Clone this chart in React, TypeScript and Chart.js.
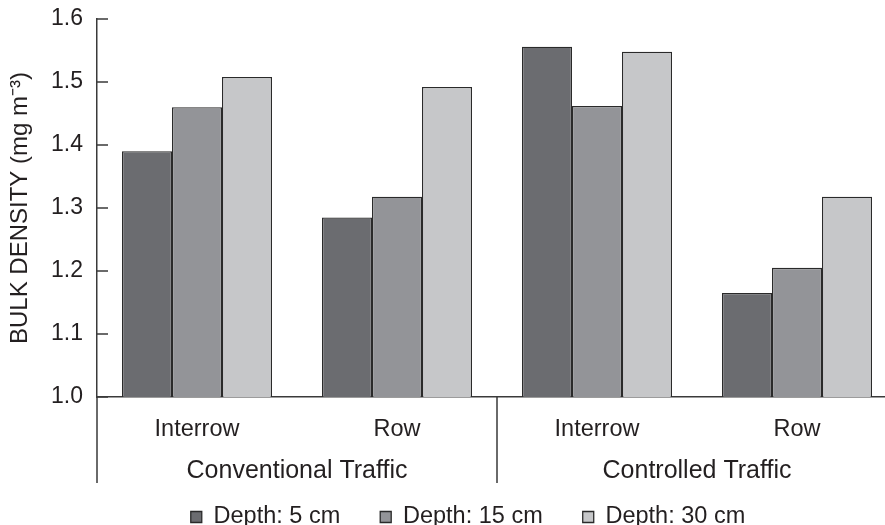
import React, { useEffect, useRef } from "react";
import { Chart, registerables } from "chart.js";

Chart.register(...registerables);

const categories = ["Interrow", "Row", "Interrow", "Row"];
const groups = ["Conventional Traffic", "Controlled Traffic"];
const seriesNames = ["Depth: 5 cm", "Depth: 15 cm", "Depth: 30 cm"];
const depth5 = [1.39, 1.285, 1.556, 1.165];
const depth15 = [1.46, 1.318, 1.462, 1.205];
const depth30 = [1.508, 1.492, 1.548, 1.318];
const yMin = 1.0;
const yMax = 1.6;
const yStep = 0.1;
const yTitle = "BULK DENSITY (mg m\u207B\u00B3)";

const colors = ["#6b6c70", "#939498", "#c6c7c9"];
const FONT = "'Liberation Sans', Arial, Helvetica, sans-serif";
const TEXT = "#231f20";
const LINE = "#3a3a3a";

const axisDecor = {
  id: "axisDecor",
  afterLayout(chart: any) {
    const lg = chart.legend;
    if (!lg) return;
    const d = 468 - (lg.left + lg.right) / 2;
    lg.left += d;
    lg.right += d;
    const pad = lg.options.labels.padding;
    const top = 517 - pad - 23.5 / 2;
    lg.top = top;
    lg.bottom = chart.height;
    lg.height = lg.bottom - lg.top;
  },
  afterDraw(chart: any) {
    const ctx = chart.ctx;
    const x = chart.scales.x;
    const x2 = chart.scales.x2;
    const y = chart.scales.y;
    const { left, bottom } = chart.chartArea;
    ctx.save();
    ctx.strokeStyle = LINE;
    ctx.lineWidth = 1.5;
    ctx.beginPath();
    for (const v of [-0.5, 1.5, 3.5]) {
      const px = x.getPixelForValue(v);
      ctx.moveTo(px, bottom);
      ctx.lineTo(px, x2.bottom);
    }
    for (const t of y.ticks) {
      const py = y.getPixelForValue(t.value);
      ctx.moveTo(left, py);
      ctx.lineTo(left + 11, py);
    }
    ctx.stroke();
    ctx.restore();
  },
};

export default function App() {
  const ref = useRef<HTMLCanvasElement | null>(null);
  useEffect(() => {
    if (!ref.current) return;
    const sets = [depth5, depth15, depth30].map((d, i) => ({
      label: seriesNames[i],
      data: d,
      backgroundColor: colors[i],
      borderColor: "#2a2a2a",
      borderWidth: 1.3,
      borderSkipped: false,
      categoryPercentage: 0.75,
      barPercentage: 1.0,
    }));
    const chart = new Chart(ref.current, {
      type: "bar",
      data: { labels: categories, datasets: sets as any },
      plugins: [axisDecor],
      options: {
        animation: false,
        responsive: false,
        devicePixelRatio: 1,
        layout: { padding: { top: 19, right: 8, left: 0, bottom: 0 } },
        plugins: {
          tooltip: { enabled: false },
          legend: {
            position: "bottom",
            maxHeight: 42,
            labels: {
              boxWidth: 11,
              boxHeight: 11,
              padding: 40,
              color: TEXT,
              font: { family: FONT, size: 23.5 },
            },
          },
        },
        scales: {
          x: {
            type: "category",
            offset: true,
            grid: { display: false, drawTicks: false },
            border: { display: true, color: LINE, width: 1.5 },
            ticks: {
              color: TEXT,
              padding: 18,
              maxRotation: 0,
              autoSkip: false,
              font: { family: FONT, size: 23.5 },
            },
            afterFit: (s: any) => {
              s.height = 44;
            },
          },
          x2: {
            type: "category",
            position: "bottom",
            weight: 1,
            labels: groups,
            offset: true,
            grid: { display: false, drawTicks: false },
            border: { display: false },
            ticks: {
              color: TEXT,
              padding: 15,
              maxRotation: 0,
              autoSkip: false,
              font: { family: FONT, size: 25 },
            },
            afterFit: (s: any) => {
              s.height = 42;
            },
          },
          y: {
            min: yMin,
            max: yMax,
            grid: {
              display: true,
              drawOnChartArea: false,
              drawTicks: true,
              tickLength: 14,
              color: "rgba(0,0,0,0)",
            },
            border: { display: true, color: LINE, width: 1.5 },
            ticks: {
              stepSize: yStep,
              padding: 0,
              color: TEXT,
              font: { family: FONT, size: 23 },
              callback: (v: any) => Number(v).toFixed(1),
            },
            title: {
              display: true,
              text: yTitle,
              color: TEXT,
              padding: { top: 5.5, bottom: 0 },
              font: { family: FONT, size: 24 },
            },
            afterFit: (s: any) => {
              s.width = 97;
            },
          },
        },
      } as any,
    });
    return () => chart.destroy();
  }, []);
  return (
    <div
      style={{
        position: "fixed",
        left: 0,
        top: 0,
        width: 885,
        height: 525,
        overflow: "hidden",
        background: "#fff",
      }}
    >
      <canvas
        ref={ref}
        width={905}
        height={525}
        style={{ display: "block", width: 905, height: 525 }}
      />
    </div>
  );
}
